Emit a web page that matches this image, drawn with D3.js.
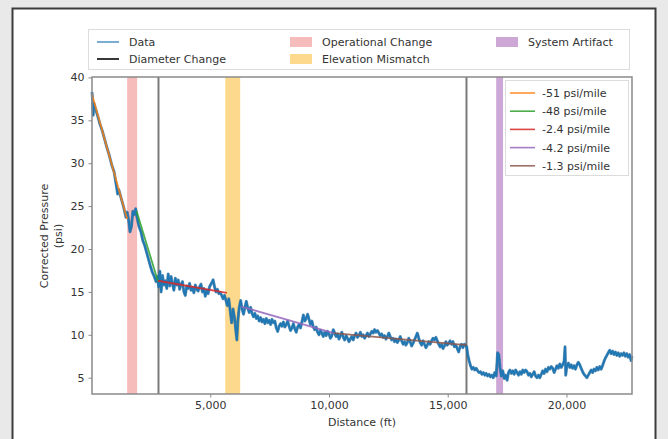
<!DOCTYPE html>
<html><head><meta charset="utf-8">
<script src="https://cdn.jsdelivr.net/npm/d3@7"></script>
<style>body{margin:0;background:#e9e9e9}svg{display:block}text{font-family:"DejaVu Sans",sans-serif;fill:#333}</style>
</head><body><svg id="c" width="668" height="439"></svg>
<script>
// ---- data ----
const pressureSeries = [
[20,38.3],[40,37.6],[70,35.6],[100,37.0],[150,36.5],[250,35.6],[350,34.6],[450,33.8],[550,32.8],[650,31.8],[750,30.9],[850,29.8],[950,29.0],[1050,27.3],[1100,26.4],[1150,26.9],[1250,25.9],[1350,24.9],[1450,23.7],
[1500,24.3],[1560,23.4],[1620,22.0],[1680,22.6],[1740,24.4],[1800,24.0],[1860,24.7],[1920,23.6],[2000,22.6],[2080,22.0],[2160,21.0],[2240,20.4],[2320,19.6],[2400,18.8],[2480,18.0],[2560,17.3],[2640,16.8],[2720,16.2],[2780,16.8],
[2830,15.6],[2880,17.4],[2930,15.0],[2990,16.9],[3050,15.8],[3110,16.3],[3170,15.4],[3230,17.1],[3290,15.7],[3350,16.8],[3410,15.9],[3470,15.2],[3530,16.6],[3590,15.8],[3650,16.4],[3710,15.3],[3770,15.9],[3830,16.2],[3890,15.0],[3950,14.6],[4010,15.7],[4070,15.4],[4130,16.0],[4190,15.2],[4250,15.5],[4310,14.9],[4370,15.8],[4430,15.3],[4490,15.1],[4550,15.6],[4610,15.9],[4670,15.0],[4730,15.4],[4790,14.5],[4850,15.2],[4910,14.8],[4970,15.6],[5050,16.0],[5120,16.4],[5180,15.6],[5240,15.0],[5300,15.3],[5360,14.8],[5420,14.9],[5480,14.6],[5540,14.2],[5600,14.6],[5660,14.0],[5720,13.4],[5780,14.2],[5840,12.8],[5900,11.4],[5960,13.0],[6020,12.0],[6080,10.4],[6120,9.4],[6160,11.6],[6220,13.2],
[6280,14.0],[6340,13.0],[6400,12.4],[6460,13.2],[6520,13.9],[6580,13.1],[6640,12.6],[6700,13.2],[6760,12.5],[6820,12.1],[6880,12.5],[6940,11.9],[7000,12.2],[7060,11.6],[7120,12.0],[7180,11.5],[7240,11.8],[7300,11.3],[7360,11.9],[7420,11.4],[7480,11.7],[7540,11.2],[7600,11.8],[7660,11.4],[7720,11.6],[7780,10.8],[7840,10.4],[7900,11.0],[7960,11.3],[8020,11.0],[8080,11.5],[8140,10.9],[8200,11.2],[8260,11.6],[8320,11.0],[8380,10.5],[8440,10.8],[8500,11.3],[8560,10.7],[8620,10.3],[8680,10.9],[8740,11.2],[8800,10.8],[8860,11.5],[8920,12.3],[8980,11.6],[9040,11.9],[9100,12.4],[9160,11.8],[9220,11.2],[9280,11.6],[9340,10.9],[9400,10.6],[9460,10.9],[9520,10.3],[9580,10.0],[9640,10.5],[9700,10.2],[9760,9.8],[9820,10.3],[9880,9.9],[9940,10.4],[10000,10.1],[10060,9.6],[10120,9.9],[10180,10.6],[10240,10.2],[10300,9.8],[10360,10.1],[10420,9.5],[10480,9.9],[10540,10.3],[10600,9.7],[10660,9.4],[10720,9.9],[10780,9.6],[10840,9.2],[10900,9.5],[10960,9.8],[11020,9.4],[11080,9.9],[11140,10.2],[11200,9.7],[11260,9.9],[11320,10.3],[11380,9.8],[11440,10.0],[11500,9.6],[11560,9.9],[11620,10.2],[11680,9.8],[11740,10.1],[11800,10.4],[11860,10.2],[11920,10.6],[11980,10.3],[12040,10.5],[12100,10.2],[12160,9.9],[12220,10.1],[12280,9.7],[12340,9.9],[12400,9.5],[12460,9.8],[12520,10.2],[12580,9.8],[12640,9.4],[12700,9.6],[12760,9.2],[12820,9.5],[12880,9.1],[12940,9.4],[13000,9.8],[13060,9.3],[13120,8.9],[13180,9.2],[13240,8.8],[13300,9.1],[13360,9.6],[13420,9.2],[13480,8.7],[13540,9.0],[13600,9.4],[13660,9.8],[13720,10.2],[13780,9.6],[13840,9.1],[13900,8.8],[13960,9.3],[14020,8.9],[14080,8.5],[14140,8.8],[14200,9.2],[14260,8.9],[14320,9.3],[14380,9.6],[14440,9.4],[14500,9.7],[14560,9.3],[14620,8.9],[14680,8.6],[14740,8.9],[14800,8.4],[14860,8.7],[14920,9.2],[14980,8.8],[15040,9.0],[15100,9.3],[15160,8.9],[15220,9.2],[15280,8.6],[15340,8.8],[15400,8.4],[15460,8.0],[15520,8.6],[15580,8.9],[15640,8.5],[15700,8.9],[15760,8.7],
[15800,8.6],[15850,7.6],[15900,7.0],[15960,6.4],[16020,6.0],[16080,6.2],[16140,5.9],[16200,6.1],[16260,5.8],[16320,5.6],[16380,5.7],[16440,5.4],[16500,5.6],[16560,5.3],[16620,5.5],[16680,5.2],[16740,5.4],[16800,5.1],[16860,5.3],[16920,5.0],[16980,5.6],[17040,5.2],[17100,7.9],[17150,7.7],[17200,6.2],[17260,5.2],[17320,5.8],[17380,4.9],[17440,5.3],[17500,4.7],[17560,5.6],[17620,5.9],[17680,5.5],[17740,5.8],[17800,5.4],[17860,5.9],[17920,5.6],[17980,5.3],[18040,5.7],[18100,5.4],[18160,5.9],[18220,5.6],[18280,5.9],[18340,5.7],[18400,5.3],[18460,5.5],[18520,5.1],[18580,5.4],[18640,5.7],[18700,5.2],[18760,5.0],[18820,5.3],[18880,5.0],[18940,5.4],[19000,5.8],[19060,5.5],[19120,6.0],[19180,5.7],[19240,6.2],[19300,6.0],[19360,6.3],[19420,6.1],[19480,5.6],[19540,6.0],[19600,6.4],[19660,6.1],[19720,6.6],[19780,6.2],[19840,6.5],[19900,6.9],[19940,8.6],[19970,5.3],[20020,6.4],[20080,6.7],[20140,6.2],[20200,6.5],[20260,6.1],[20320,6.4],[20380,6.0],[20440,6.5],[20500,6.8],[20560,6.5],[20620,6.1],[20680,5.7],[20740,5.4],[20800,5.2],[20860,5.0],[20920,5.3],[20980,5.6],[21040,5.9],[21100,5.6],[21160,6.0],[21220,5.8],[21280,6.2],[21340,5.9],[21400,6.3],[21460,6.0],[21520,6.4],[21580,6.9],[21640,7.3],[21700,7.6],[21760,7.9],[21820,8.2],[21880,7.8],[21940,8.1],[22000,7.7],[22060,8.0],[22120,7.6],[22180,7.9],[22240,7.5],[22300,7.8],[22360,7.6],[22420,7.9],[22480,7.5],[22540,7.8],[22600,7.4],[22660,7.7],[22720,7.0],[22760,7.5]
];
const fitLabels = ["-51 psi/mile","-48 psi/mile","-2.4 psi/mile","-4.2 psi/mile","-1.3 psi/mile"];
const fitStartFt = [20, 1900, 2800, 6300, 10200];
const fitEndFt = [1500, 2800, 5700, 10200, 15800];
const fitStartPsi = [38.0, 24.4, 16.3, 13.3, 10.2];
const fitEndPsi = [23.5, 16.2, 14.9, 10.2, 8.8];
const diameterChangeFt = [2820, 15790];
const spanLabels = ["Operational Change","Elevation Mismatch","System Artifact"];
const spanStartFt = [1500, 5630, 17040];
const spanEndFt = [1920, 6260, 17330];
const xTicks = [5000, 10000, 15000, 20000];
const yTicks = [5, 10, 15, 20, 25, 30, 35, 40];
const xLabel = "Distance (ft)";
const yLabelLines = ["Corrected Pressure", "(psi)"];

// ---- styles ----
const fitColors = ["#ff7f0e","#2ca02c","#d62728","#9467bd","#8c564b"];
const spanColors = ["#f6bcbc","#fdd98e","#cda7d6"];
const dataColor = "#1f77b4";
const axisColor = "#8a8a8a";

const svg = d3.select("#c");
svg.append("rect").attr("width",668).attr("height",439).attr("fill","#e9e9e9");
svg.append("rect").attr("x",12.5).attr("y",8.5).attr("width",643).attr("height",450)
  .attr("fill","#fff").attr("stroke","#3c3c3c").attr("stroke-width",2);

const L=92, R=632, T=77, B=394;
const x = d3.scaleLinear().domain([20, 22760]).range([L, R]);
const y = d3.scaleLinear().domain([3.1, 40.05]).range([B, T]);

const plot = svg.append("g");
spanLabels.forEach((s,i)=>{
  plot.append("rect").attr("x",x(spanStartFt[i])).attr("y",T)
    .attr("width",x(spanEndFt[i])-x(spanStartFt[i])).attr("height",B-T)
    .attr("fill",spanColors[i]);
});
diameterChangeFt.forEach(d=>{
  plot.append("line").attr("x1",x(d)).attr("x2",x(d)).attr("y1",T).attr("y2",B)
    .attr("stroke","#7a7a7a").attr("stroke-width",2);
});
const line = d3.line().x(d=>x(d[0])).y(d=>y(d[1]));
plot.append("path").datum(pressureSeries).attr("d",line).attr("fill","none")
  .attr("stroke","#175a8c").attr("stroke-width",3).attr("stroke-linejoin","round").attr("opacity",0.6);
plot.append("path").datum(pressureSeries).attr("d",line).attr("fill","none")
  .attr("stroke",dataColor).attr("stroke-width",2).attr("stroke-linejoin","round");
fitLabels.forEach((f,i)=>{
  plot.append("path").datum([[fitStartFt[i],fitStartPsi[i]],[fitEndFt[i],fitEndPsi[i]]])
    .attr("d",line).attr("fill","none").attr("stroke",fitColors[i]).attr("stroke-width",1.8).attr("opacity",0.85);
});

svg.append("rect").attr("x",L).attr("y",T).attr("width",R-L).attr("height",B-T)
  .attr("fill","none").attr("stroke",axisColor).attr("stroke-width",1.5);

const xAxis = svg.append("g").attr("transform",`translate(0,${B})`)
  .call(d3.axisBottom(x).tickValues(xTicks).tickFormat(d3.format(",")).tickSizeOuter(0).tickSize(3.5).tickPadding(4));
const yAxis = svg.append("g").attr("transform",`translate(${L},0)`)
  .call(d3.axisLeft(y).tickValues(yTicks).tickSizeOuter(0).tickSize(3.5).tickPadding(4));
[xAxis,yAxis].forEach(a=>{
  a.select(".domain").remove();
  a.selectAll(".tick line").attr("stroke",axisColor);
  a.selectAll(".tick text").attr("font-size",11).attr("fill","#333").attr("font-family","DejaVu Sans");
});
svg.append("text").attr("x",(L+R)/2).attr("y",426).attr("text-anchor","middle").attr("font-size",11).text(xLabel);
yLabelLines.forEach((t,i)=>{
  svg.append("text").attr("transform",`translate(${48+i*14},236) rotate(-90)`)
    .attr("text-anchor","middle").attr("font-size",11).text(t);
});

const lg = svg.append("g");
lg.append("rect").attr("x",88.5).attr("y",29.5).attr("width",541).attr("height",40)
  .attr("fill","#fff").attr("stroke","#dcdcdc");
const topItems = [
  {t:"Data", type:"line", c:dataColor, x:97, y:42},
  {t:"Diameter Change", type:"line", c:"#222", x:97, y:59},
  {t:spanLabels[0], type:"patch", c:spanColors[0], x:290, y:42},
  {t:spanLabels[1], type:"patch", c:spanColors[1], x:290, y:59},
  {t:spanLabels[2], type:"patch", c:spanColors[2], x:496, y:42}
];
topItems.forEach(d=>{
  if(d.type==="line") lg.append("line").attr("x1",d.x).attr("x2",d.x+22).attr("y1",d.y).attr("y2",d.y)
    .attr("stroke",d.c).attr("stroke-width",d.c===dataColor?1.2:1.8);
  else lg.append("rect").attr("x",d.x).attr("y",d.y-5).attr("width",22).attr("height",10).attr("fill",d.c);
  lg.append("text").attr("x",d.x+32).attr("y",d.y+4).attr("font-size",11).text(d.t);
});

const rg = svg.append("g");
rg.append("rect").attr("x",505.5).attr("y",80.5).attr("width",123).attr("height",95)
  .attr("fill","#fff").attr("fill-opacity",0.8).attr("stroke","#dcdcdc");
fitLabels.forEach((f,i)=>{
  const yy = 93 + i*18.2;
  rg.append("line").attr("x1",510).attr("x2",535).attr("y1",yy).attr("y2",yy)
    .attr("stroke",fitColors[i]).attr("stroke-width",1.6).attr("opacity",0.85);
  rg.append("text").attr("x",542).attr("y",yy+4).attr("font-size",11).text(f);
});
</script></body></html>
